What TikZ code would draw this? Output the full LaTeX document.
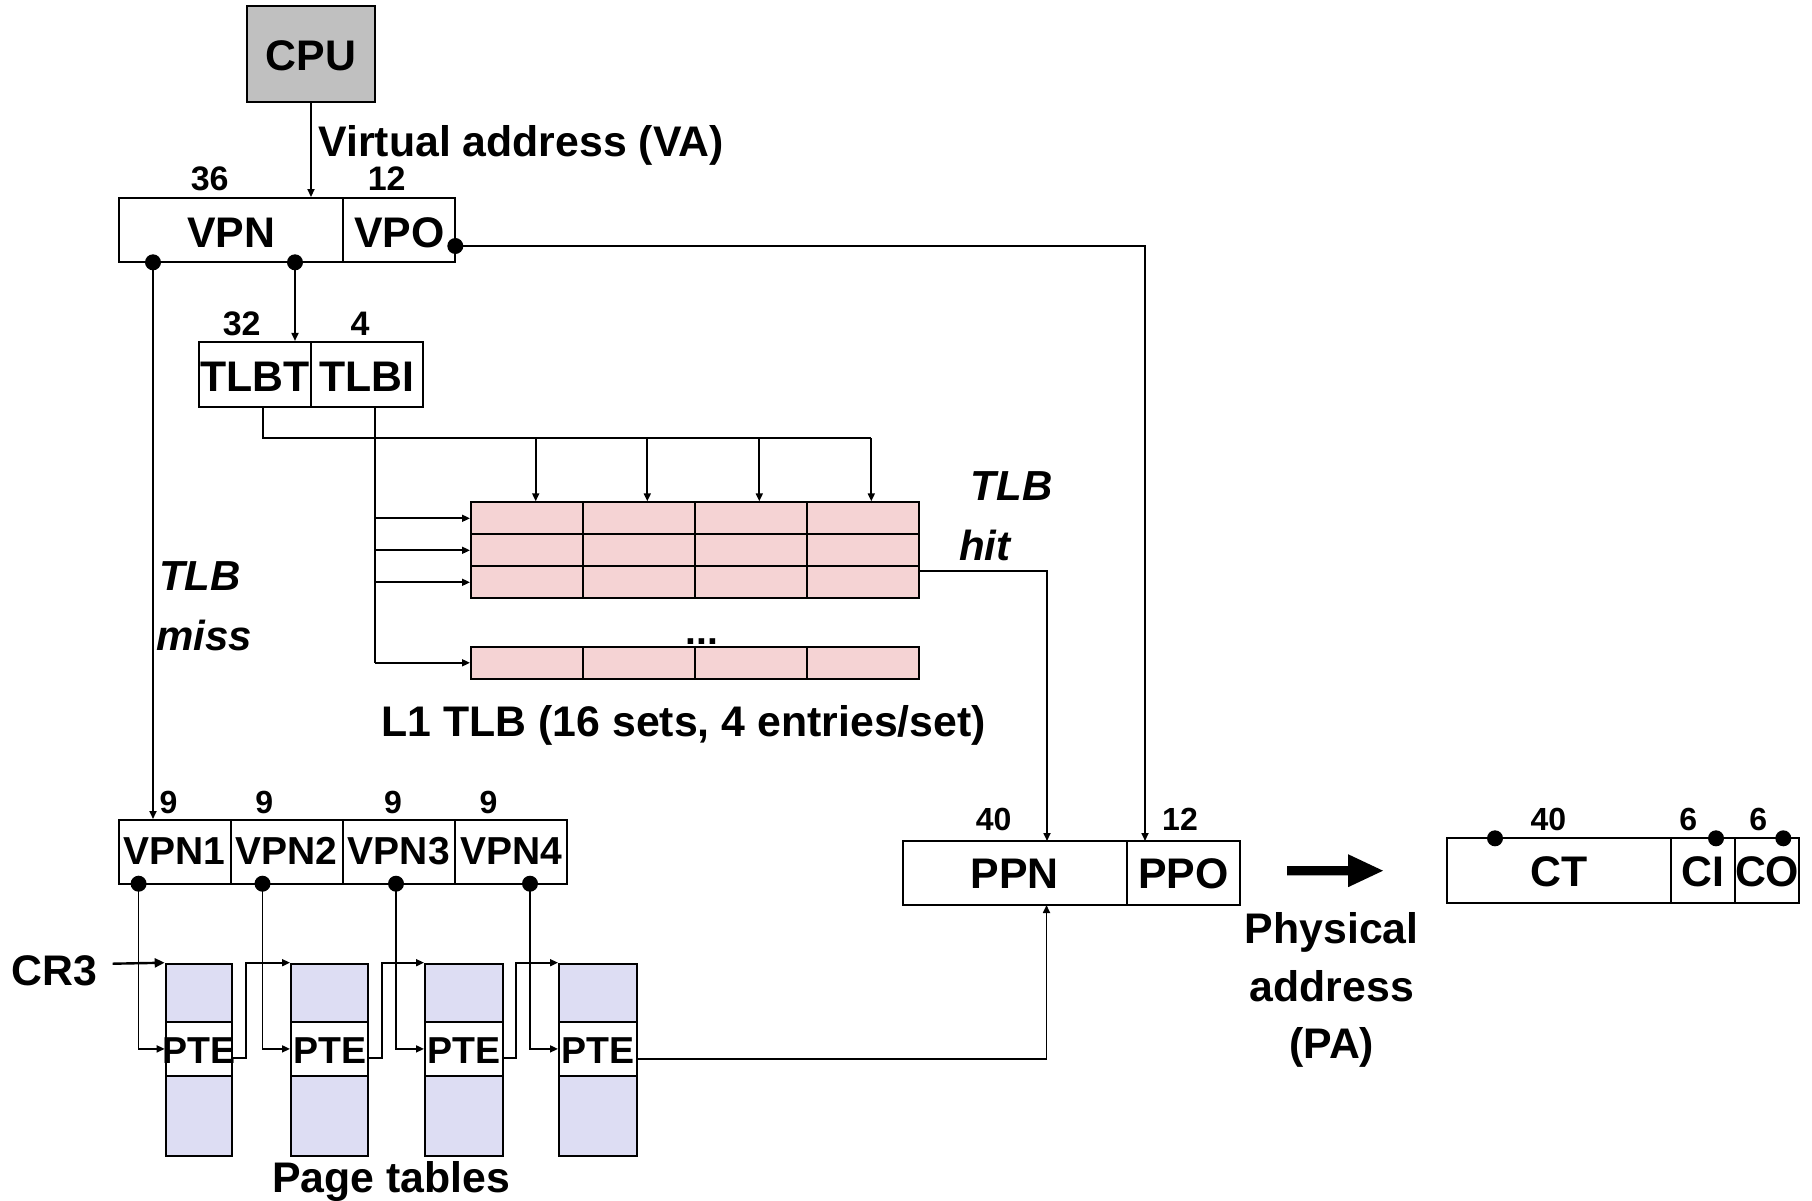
\documentclass[tikz,border=0pt]{standalone}
\usepackage{fontspec}
\setmainfont{Liberation Sans}
\usetikzlibrary{arrows.meta}
\definecolor{cpugray}{HTML}{C0C0C0}
\definecolor{tlbpink}{HTML}{F5D3D4}
\definecolor{ptblue}{HTML}{DDDDF3}
\newcommand\fntL{\fontsize{42.8}{50}\selectfont\bfseries}
\newcommand\fntLI{\fontsize{42}{50}\selectfont\bfseries\itshape}
\newcommand\fntM{\fontsize{39}{46}\selectfont\bfseries}
\newcommand\fntP{\fontsize{37.5}{45}\selectfont\bfseries}
\newcommand\fntS{\fontsize{34}{40}\selectfont\bfseries}
\newcommand\fntT{\fontsize{32}{38}\selectfont\bfseries}
\begin{document}
\begin{tikzpicture}[x=1pt,y=-1pt,
  conn/.style={line width=1.7pt},
  arr/.style={conn,-{Triangle[length=8pt,width=7pt]}},
  bigarr/.style={line width=2.4pt,-{Triangle[length=10pt,width=9pt]}},
  box/.style={draw,line width=2pt,inner sep=0pt,font=\fntL,text height=34pt,text depth=0pt},
  cell/.style={draw,line width=2pt,inner sep=0pt,fill=tlbpink,minimum width=112pt,minimum height=32pt},
  ptcell/.style={draw,line width=2pt,inner sep=0pt,fill=ptblue},
  pte/.style={draw,line width=2pt,inner sep=0pt,fill=white,minimum height=53.2pt},
  ptetext/.style={font=\fntP,anchor=base,inner sep=0pt},
  vbox/.style={box,font=\fntM,text height=26pt,minimum width=112.1pt,minimum height=63.7pt},
  num/.style={font=\fntS,anchor=base,inner sep=0pt},
  numb/.style={font=\fntT,anchor=base,inner sep=0pt},
  lab/.style={font=\fntL,inner sep=0pt},
  dot/.style={fill=black}]
\useasboundingbox (0,0) rectangle (1812,1200);
\fill[white] (0,0) rectangle (1812,1200);

% CPU and virtual address
\node[box,minimum width=128.6pt,minimum height=96pt,fill=cpugray,text height=32pt] (cpu) at (311,54) {CPU};
\node[lab,anchor=base west] (va) at (318.3,156) {Virtual address (VA)};
\node[box,minimum width=224.3pt,minimum height=64.3pt] (vpn) at (231.2,230.2) {VPN};
\node[box,minimum width=112pt,minimum height=64.3pt] (vpo) at (399.3,230.2) {VPO};
\node[num] (n36) at (209.7,190) {36};
\node[num] (n12a) at (386.7,190) {12};

% TLBT / TLBI
\node[box,minimum width=112pt,minimum height=64.7pt,text height=35pt] (tlbt) at (255,374.3) {TLBT};
\node[box,minimum width=112.3pt,minimum height=64.7pt,text height=35pt] (tlbi) at (367.2,374.3) {TLBI};
\node[num] (n32) at (241.7,335) {32};
\node[num] (n4) at (360,335) {4};

% TLB array
\foreach \r/\y in {1/518.3,2/550.3,3/582.3,4/662.8}
  \foreach \c in {1,...,4}
    \node[cell] (c\r\c) at ({527+112*(\c-1)},\y) {};
\node[font=\fntM,anchor=base,inner sep=0pt] (dots) at (702,644) {...};
\node[lab,anchor=base west] (l1tlb) at (381.5,736) {L1 TLB (16 sets, 4 entries/set)};
\node[font=\fntLI,anchor=base west,inner sep=0pt] (hit1) at (970.5,500) {TLB};
\node[font=\fntLI,anchor=base west,inner sep=0pt] (hit2) at (959,560) {hit};
\node[font=\fntLI,anchor=base west,inner sep=0pt] (miss1) at (159,590) {TLB};
\node[font=\fntLI,anchor=base west,inner sep=0pt] (miss2) at (156,650) {miss};

% VPN1..4
\node[vbox] (v1) at (174.65,851.85) {VPN1};
\node[vbox] (v2) at (286.75,851.85) {VPN2};
\node[vbox] (v3) at (398.85,851.85) {VPN3};
\node[vbox] (v4) at (510.95,851.85) {VPN4};
\foreach \x [count=\i] in {168.6,264.3,392.9,488.6}
  \node[numb] (n9\i) at (\x,813.3) {9};

% Page tables
\foreach \i/\x/\w in {1/199/66.6,2/329.65/77.3,3/463.85/77.7,4/597.85/77.7}{
  \node[ptcell,minimum width=\w pt,minimum height=58.6pt] (p\i t) at (\x,993) {};
  \node[pte,minimum width=\w pt] (p\i) at (\x,1048.9) {};
  \node[ptetext] (p\i txt) at (\x,1063.3) {PTE};
  \node[ptcell,minimum width=\w pt,minimum height=80.5pt] (p\i b) at (\x,1115.75) {};
}
\node[lab,anchor=base west] (cr3) at (11,985) {CR3};
\node[lab,anchor=base] (ptl) at (391,1192) {Page tables};

% PPN / PPO
\node[box,minimum width=224.3pt,minimum height=64pt,text height=30.6pt] (ppn) at (1014.65,873) {PPN};
\node[box,minimum width=112.8pt,minimum height=64pt,text height=30.6pt] (ppo) at (1183.2,873) {PPO};
\node[numb] (n40a) at (993.6,830) {40};
\node[numb] (n12b) at (1180,830) {12};
\node[lab,anchor=base] (pa1) at (1331.8,943) {Physical};
\node[lab,anchor=base] (pa2) at (1331.8,1001) {address};
\node[lab,anchor=base] (pa3) at (1331.8,1058) {(PA)};

% CT / CI / CO
\node[box,minimum width=224.3pt,minimum height=64.4pt,text height=32.4pt] (ct) at (1558.85,870.5) {CT};
\node[box,minimum width=64pt,minimum height=64.4pt,text height=32.4pt] (ci) at (1703,870.5) {CI};
\node[box,minimum width=64.3pt,minimum height=64.4pt,text height=32.4pt] (co) at (1767.15,870.5) {CO};
\node[numb] (n40b) at (1548.3,830) {40};
\node[numb] (n6a) at (1688.3,830) {6};
\node[numb] (n6b) at (1758.3,830) {6};

% coordinates
\coordinate (dvpn1) at (153,262.3);
\coordinate (dvpn2) at (295,262.3);
\coordinate (dvpo) at (455.3,246);
\coordinate (ppoin) at (1145,841);
\coordinate (tb0) at (263.3,438.3);
\coordinate (tbe) at (871.3,438.3);
\coordinate (tb1) at (535.7,438.3);
\coordinate (tb2) at (647.3,438.3);
\coordinate (tb3) at (759.3,438.3);
\coordinate (tb4) at (871.3,438.3);
\coordinate (ibtop) at (375,406.7);
\coordinate (ib) at (375,662.8);
\coordinate (hitout) at (919.3,571);
\coordinate (ppnin) at (1047,841);
\coordinate (ppnin2) at (1046.5,905);
\coordinate (cr3s) at (112.7,963.7);
\coordinate (dv1) at (138.6,883.7);
\coordinate (dv2) at (262.5,883.7);
\coordinate (dv3) at (396,883.7);
\coordinate (dv4) at (530,883.7);
\coordinate (j1) at (246,1000);
\coordinate (j2) at (381.7,1000);
\coordinate (j3) at (515.7,1000);

% connectors
\draw[arr] (cpu.south) -- (cpu.south |- vpn.north);
\draw[arr] (dvpo) -| (ppoin);
\draw[arr] (dvpn2) -- (dvpn2 |- tlbt.north);
\draw[arr] (dvpn1) -- (dvpn1 |- v1.north);
\draw[conn] (tb0 |- tlbt.south) -- (tb0) -- (tbe);
\foreach \c in {1,...,4}
  \draw[arr] (tb\c) -- (tb\c |- c1\c.north);
\draw[conn] (ibtop) -- (ib);
\foreach \r in {1,...,4}
  \draw[arr] (ib |- c\r1.west) -- (c\r1.west);
\draw[arr] (hitout) -| (ppnin);
\draw[bigarr] (cr3s) -- (p1t.north west);
\foreach \i in {1,...,4}
  \draw[arr] (dv\i) |- (p\i.west);
\draw[arr] ([yshift=-9pt]p1.east) -| (j1) |- (p2t.north west);
\draw[arr] ([yshift=-9pt]p2.east) -| (j2) |- (p3t.north west);
\draw[arr] ([yshift=-9pt]p3.east) -| (j3) |- (p4t.north west);
\draw[arr] ([yshift=-10pt]p4.east) -| (ppnin2);

% big arrow
\fill (1287,866) -- (1348,866) -- (1348,854.2) -- (1383,870.7) -- (1348,887.2) -- (1348,875.4) -- (1287,875.4) -- cycle;

% dots
\foreach \p in {dvpn1,dvpn2,dvpo,dv1,dv2,dv3,dv4}
  \fill[dot] (\p) circle[radius=8pt];
\fill[dot] (1495,838.3) circle[radius=8pt];
\fill[dot] (1716,838.3) circle[radius=8pt];
\fill[dot] (1783.3,838.3) circle[radius=8pt];
\end{tikzpicture}
\end{document}
